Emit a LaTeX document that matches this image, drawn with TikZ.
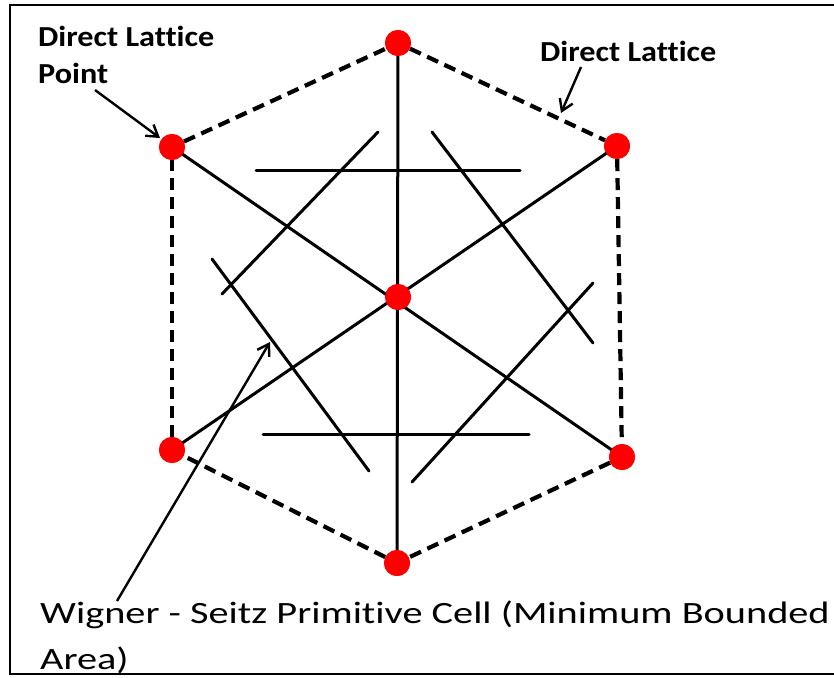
\documentclass[tikz,border=0pt]{standalone}
\usepackage{fontspec}
\setmainfont[Ligatures=NoCommon]{Carlito}
\newfontfamily\tagfont[FakeStretch=1.11,Ligatures=NoCommon]{Carlito}
\newfontfamily\capfont[FakeStretch=1.3,Ligatures=NoCommon]{Carlito}
\usepackage{tikz}
\usetikzlibrary{arrows.meta}
\tikzset{
  latpt/.style={circle, fill=red, inner sep=0pt, minimum size=26pt},
  bond/.style={line width=3pt, black},
  cellwall/.style={line width=3pt, black, line cap=round},
  edgedash/.style={line width=4.2pt, black, dash pattern=on 12pt off 7pt},
  pointer/.style={-{Straight Barb[length=11pt,width=14pt,line width=2.4pt]}, line width=2.4pt, black},
  tag/.style={font=\tagfont\fontsize{29}{36}\selectfont\bfseries, anchor=base west, inner sep=0pt, align=left},
  caption/.style={font=\capfont\fontsize{31}{46}\selectfont, anchor=base west, inner sep=0pt, align=left}
}
\begin{document}
\begin{tikzpicture}[x=1pt, y=-1pt]
  \useasboundingbox (0,0) rectangle (834,677);
  % frame, open on the right
  \draw[line width=2.5pt] (834,5) -- (10,5) -- (10,674) -- (834,674);

  % lattice points
  \node[latpt] (top) at (398,43) {};
  \node[latpt] (ul) at (172,147) {};
  \node[latpt] (ur) at (617,146) {};
  \node[latpt] (ctr) at (398,297) {};
  \node[latpt] (ll) at (172,450) {};
  \node[latpt] (lr) at (622,457) {};
  \node[latpt] (bot) at (397,563) {};

  % hexagon of neighbours
  \draw[edgedash] (top) -- (ur);
  \draw[edgedash] (ur) -- (lr);
  \draw[edgedash] (lr) -- (bot);
  \draw[edgedash] (bot) -- (ll);
  \draw[edgedash] (ll) -- (ul);
  \draw[edgedash] (ul) -- (top);

  % bonds through the centre
  \draw[bond] (top.center) -- (bot.center);
  \draw[bond] (ul.center) -- (lr.center);
  \draw[bond] (ur.center) -- (ll.center);

  % perpendicular bisectors (cell walls)
  \draw[cellwall] (256,170) -- (520,170);
  \draw[cellwall] (263,434) -- (529,434);
  \draw[cellwall] (378,132) -- (222,294);
  \draw[cellwall] (212,259) -- (369,471);
  \draw[cellwall] (432,132) -- (593,343);
  \draw[cellwall] (593,283) -- (412,482);

  \foreach \p in {top,ul,ur,ctr,ll,lr,bot} \node[latpt] at (\p) {};

  % labels
  \node[tag] (lblpt) at (38,83) {Direct Lattice\\Point};
  \node[tag] (lbllat) at (540,62) {Direct Lattice};
  \node[caption] (lblws) at (40,669) {Wigner - Seitz Primitive Cell (Minimum Bounded\\Area)};

  \coordinate (ptfrom) at (95,90);
  \coordinate (latfrom) at (581,67);
  \coordinate (wsfrom) at (117,601);
  \draw[pointer] (ptfrom) -- (160,138);
  \draw[pointer] (latfrom) -- (561,113);
  \draw[pointer] (wsfrom) -- (270,342);
\end{tikzpicture}
\end{document}
